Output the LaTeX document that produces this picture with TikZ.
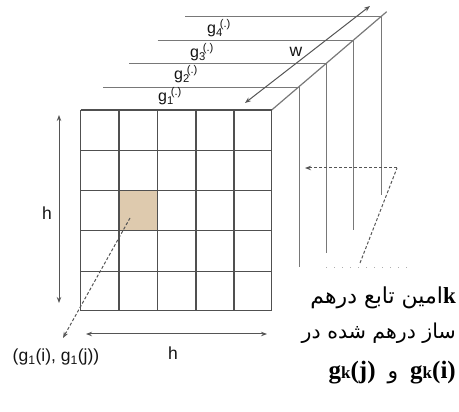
\documentclass[tikz,border=0pt]{standalone}
\usepackage{fontspec}
\setmainfont{Liberation Sans}
\newfontfamily\arabicfont[Script=Arabic]{DejaVu Sans}
\newfontfamily\timesfont{Liberation Serif}
\TeXXeTstate=1
\usetikzlibrary{arrows.meta}
\definecolor{gridc}{RGB}{80,80,80}
\definecolor{layerc}{RGB}{120,120,120}
\definecolor{arrc}{RGB}{85,85,85}
\definecolor{cellc}{RGB}{222,202,174}
\definecolor{txtc}{RGB}{20,20,20}
\tikzset{
  gridline/.style={draw=gridc, line width=1.3pt},
  layerline/.style={draw=layerc, line width=1.2pt},
  tipS/.tip={Stealth[length=6pt,width=4.5pt]},
  dimarrow/.style={draw=arrc, line width=1pt, tipS-tipS},
  dasharrow/.style={draw=arrc, line width=1pt, dash pattern=on 3pt off 2pt, -tipS},
  dashplain/.style={draw=arrc, line width=1pt, dash pattern=on 3pt off 2pt},
  dotline/.style={draw=layerc!60, line width=0.9pt, dash pattern=on 1pt off 7pt},
  lbl/.style={font=\fontsize{17.5}{20}\selectfont, text=txtc, inner sep=0pt},
  glbl/.style={font=\fontsize{16}{18}\selectfont, text=txtc, inner sep=0pt, anchor=base west},
  fatxt/.style={font=\arabicfont\fontsize{22}{26}\selectfont, text=black, inner sep=0pt, anchor=base east},
}
\newcommand{\gfun}[1]{g\textsubscript{#1}\kern-3pt\textsuperscript{(.)}}
\newcommand{\gkarg}[1]{{\timesfont\bfseries\fontsize{25}{27}\selectfont g{\fontsize{17}{17}\selectfont k}(#1)}}
\begin{document}
\begin{tikzpicture}[x=1pt,y=-1pt]
\useasboundingbox (0,0) rectangle (459,412);
% back layers
\draw[layerline] (185,16.5) -- (381.7,16.5) -- (381.7,195);
\draw[layerline] (157.7,40.7) -- (353.3,40.7) -- (353.3,230);
\draw[layerline] (129.3,63.3) -- (326.7,63.3) -- (326.7,253.3);
\draw[layerline] (103.3,87.3) -- (299.3,87.3) -- (299.3,266.7);
\draw[layerline] (271.7,110) -- (386.7,11.7);
\draw[dotline] (326,267) -- (413,267);
% highlighted cell
\fill[cellc] (119,190.7) rectangle (157.3,230.7);
% front grid
\foreach \xx in {80.7,119,157.3,196,234,271.7}
  \draw[gridline] (\xx,110) -- (\xx,310.7);
\foreach \yy in {110,150.7,190.7,230.7,271.7,310.7}
  \draw[gridline] (80.7,\yy) -- (271.7,\yy);
% layer labels
\node[glbl] (g1) at (158,102) {\gfun{1}};
\node[glbl] (g2) at (174,80) {\gfun{2}};
\node[glbl] (g3) at (190,58) {\gfun{3}};
\node[glbl] (g4) at (207,34) {\gfun{4}};
% w arrow
\coordinate (w1) at (245,103);
\coordinate (w2) at (370,6);
\draw[dimarrow] (w1) -- (w2);
\node[lbl] (w) at (296,52) {w};
% h arrows
\coordinate (hl1) at (59,115);
\coordinate (hl2) at (59,303);
\draw[dimarrow] (hl1) -- (hl2);
\node[lbl] (hl) at (47,213) {h};
\coordinate (hb1) at (86,334);
\coordinate (hb2) at (267,334);
\draw[dimarrow] (hb1) -- (hb2);
\node[lbl] (hb) at (173,353) {h};
% cell dashed arrow
\coordinate (c0) at (130,218);
\coordinate (c1) at (63,338);
\draw[dasharrow] (c0) -- (c1);
\node[lbl] (coord) at (56,357) {(g\textsubscript{1}(i), g\textsubscript{1}(j))};
% right dashed arrow
\coordinate (r0) at (360,263);
\coordinate (r1) at (397,168);
\coordinate (r2) at (305,168);
\draw[dashplain] (r0) -- (r1);
\draw[dasharrow] (r1) -- (r2);
% persian caption
\node[fatxt] (t1) at (456,304) {\beginR{\timesfont\bfseries\fontsize{23}{24}\selectfont k}امین تابع درهم\endR};
\node[fatxt, font=\arabicfont\fontsize{20.5}{24}\selectfont] (t2) at (456,339) {\beginR ساز درهم شده در\endR};
\node[fatxt] (t3) at (456,378) {\gkarg{j}\hspace{12pt}\beginR و\endR\hspace{12pt}\gkarg{i}};
\end{tikzpicture}
\end{document}
